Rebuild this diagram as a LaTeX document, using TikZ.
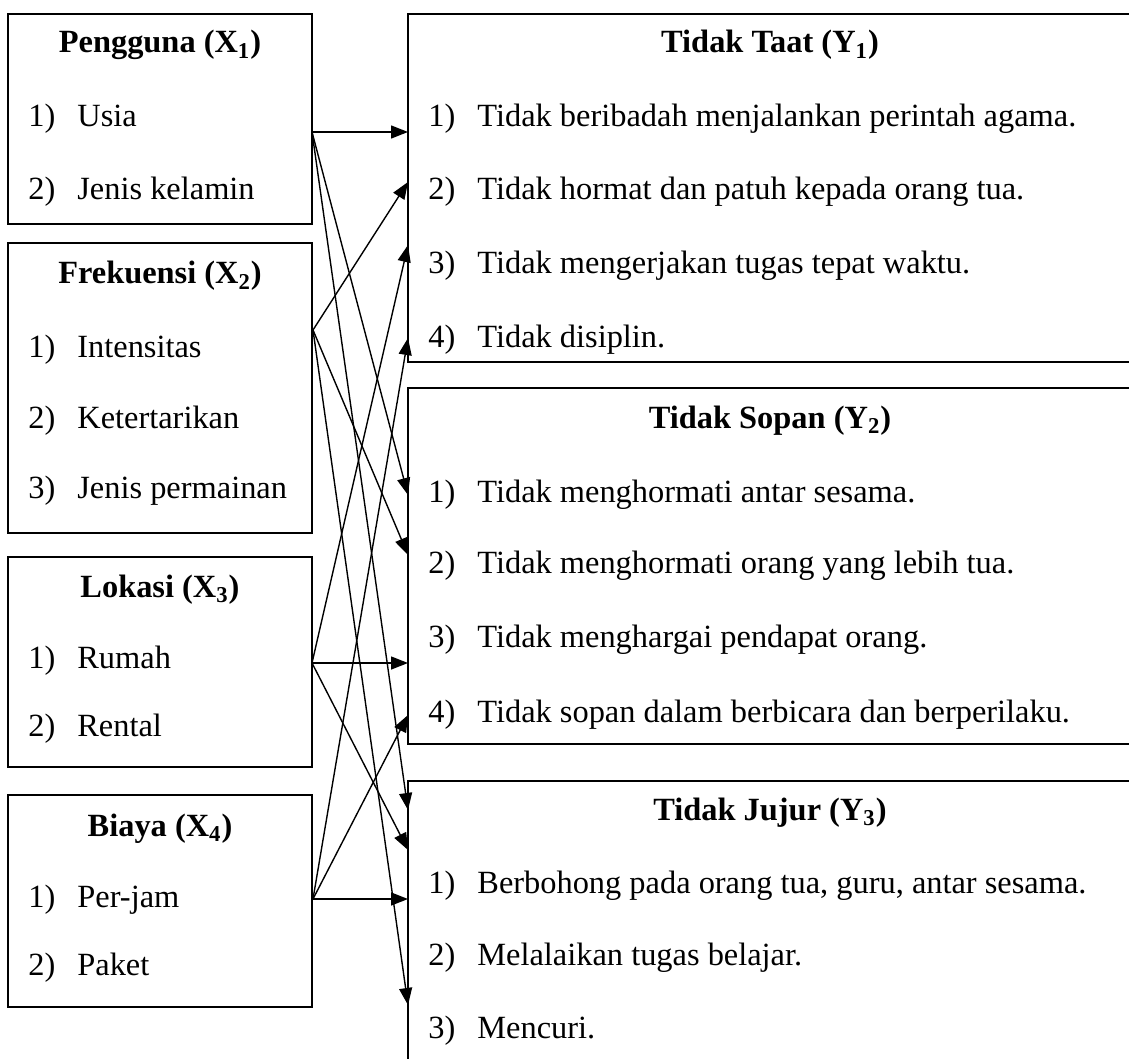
\documentclass[tikz,border=0pt]{standalone}
\usepackage{fontspec}
\setmainfont{Liberation Serif}
\usetikzlibrary{arrows.meta}

\newlength{\du}
\setlength{\du}{0.5pt}

\tikzset{
  kotak/.style={line width=1pt},
  panah/.style={line width=0.7pt,-{Triangle[length=8.5pt,width=6.5pt]}},
  judul/.style={font=\fontsize{16.2}{19}\selectfont\bfseries,anchor=base,inner sep=0pt},
  butir/.style={font=\fontsize{16.2}{19}\selectfont,anchor=base west,inner sep=0pt},
}
\newcommand{\nomor}[1]{\makebox[24.5pt][l]{#1)}}

\begin{document}
\begin{tikzpicture}[x=1\du,y=-1\du]
\useasboundingbox (0,0) rectangle (1129,1059);
% kotak kiri
\draw[kotak] (8,14) rectangle (312,224);
\node[judul] (x1) at (160,53) {Pengguna (X\textsubscript{1})};
\node[butir] (x1a) at (28,127) {\nomor{1}Usia};
\node[butir] (x1b) at (28,200) {\nomor{2}Jenis kelamin};
\draw[kotak] (8,243) rectangle (312,533);
\node[judul] (x2) at (160,284) {Frekuensi (X\textsubscript{2})};
\node[butir] (x2a) at (28,357) {\nomor{1}Intensitas};
\node[butir] (x2b) at (28,428) {\nomor{2}Ketertarikan};
\node[butir] (x2c) at (28,498) {\nomor{3}Jenis permainan};
\draw[kotak] (8,557) rectangle (312,767);
\node[judul] (x3) at (160,597) {Lokasi (X\textsubscript{3})};
\node[butir] (x3a) at (28,668) {\nomor{1}Rumah};
\node[butir] (x3b) at (28,736) {\nomor{2}Rental};
\draw[kotak] (8,795) rectangle (312,1007);
\node[judul] (x4) at (160,836) {Biaya (X\textsubscript{4})};
\node[butir] (x4a) at (28,907) {\nomor{1}Per-jam};
\node[butir] (x4b) at (28,975) {\nomor{2}Paket};
% kotak kanan
\draw[kotak] (408,14) rectangle (1132,362);
\node[judul] (y1) at (770,53) {Tidak Taat (Y\textsubscript{1})};
\node[butir] (y1a) at (428,127) {\nomor{1}Tidak beribadah menjalankan perintah agama.};
\node[butir] (y1b) at (428,200) {\nomor{2}Tidak hormat dan patuh kepada orang tua.};
\node[butir] (y1c) at (428,273) {\nomor{3}Tidak mengerjakan tugas tepat waktu.};
\node[butir] (y1d) at (428,347) {\nomor{4}Tidak disiplin.};
\draw[kotak] (408,388) rectangle (1132,744);
\node[judul] (y2) at (770,428) {Tidak Sopan (Y\textsubscript{2})};
\node[butir] (y2a) at (428,502) {\nomor{1}Tidak menghormati antar sesama.};
\node[butir] (y2b) at (428,573) {\nomor{2}Tidak menghormati orang yang lebih tua.};
\node[butir] (y2c) at (428,647) {\nomor{3}Tidak menghargai pendapat orang.};
\node[butir] (y2d) at (428,722) {\nomor{4}Tidak sopan dalam berbicara dan berperilaku.};
\draw[kotak] (408,1070) -- (408,781) -- (1140,781);
\node[judul] (y3) at (770,820) {Tidak Jujur (Y\textsubscript{3})};
\node[butir] (y3a) at (428,893) {\nomor{1}Berbohong pada orang tua, guru, antar sesama.};
\node[butir] (y3b) at (428,965) {\nomor{2}Melalaikan tugas belajar.};
\node[butir] (y3c) at (428,1038) {\nomor{3}Mencuri.};
% titik pangkal dan ujung panah
\coordinate (x1out) at (312,132);
\coordinate (x2out) at (313,330);
\coordinate (x3out) at (312,663);
\coordinate (x4out) at (313,899);
\coordinate (y1in1) at (408,132);
\coordinate (y1in2) at (408,182);
\coordinate (y1in3) at (408,245);
\coordinate (y1in4) at (408,338);
\coordinate (y2in1) at (408,495);
\coordinate (y2in2) at (408,555);
\coordinate (y2in3) at (408,663);
\coordinate (y2in4) at (408,715);
\coordinate (y3in1) at (408,810);
\coordinate (y3in2) at (408,850);
\coordinate (y3in3) at (408,899);
\coordinate (y3in4) at (408,1005);
% panah
\draw[panah] (x1out) -- (y1in1);
\draw[panah] (x1out) -- (y2in1);
\draw[panah] (x1out) -- (y3in1);
\draw[panah] (x2out) -- (y1in2);
\draw[panah] (x2out) -- (y2in2);
\draw[panah] (x2out) -- (y3in4);
\draw[panah] (x3out) -- (y1in3);
\draw[panah] (x3out) -- (y2in3);
\draw[panah] (x3out) -- (y3in2);
\draw[panah] (x4out) -- (y1in4);
\draw[panah] (x4out) -- (y2in4);
\draw[panah] (x4out) -- (y3in3);
\end{tikzpicture}
\end{document}
